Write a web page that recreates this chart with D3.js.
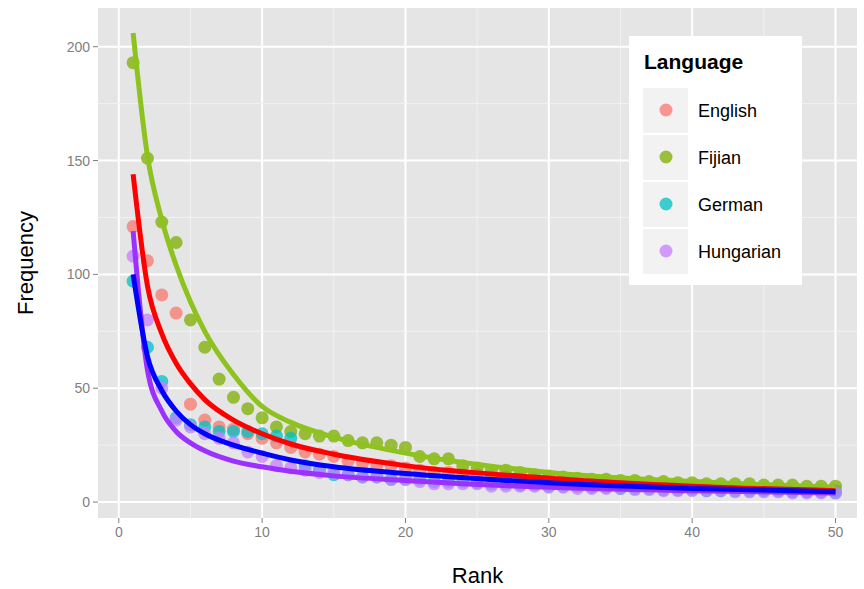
<!DOCTYPE html>
<html><head><meta charset="utf-8">
<script src="https://d3js.org/d3.v7.min.js"></script>
<style>body{margin:0;background:#fff}text{font-family:"Liberation Sans",Arial,sans-serif}</style>
</head><body>
<script>
var ranks = d3.range(1, 51);
var languages = ["English", "Fijian", "German", "Hungarian"];
var pointColors = ["#F8766D", "#7CAE00", "#00BFC4", "#C77CFF"];
var lineColors = ["#FF0000", "#8DC21F", "#0000FF", "#9B30FF"];

var english = [121,106,91,83,43,36,33,32,30,28,26,24,22,21,20,18,17,16,16,15,14,13,13,12,12,11,11,10,10,9.5,9,9,8.5,8,8,7.5,7.5,7,7,6.5,6.5,6,6,6,5.5,5.5,5,5,5,5];
var fijian = [193,151,123,114,80,68,54,46,41,37,33,31,30,29,29,27,26,26,25,24,20,19,19,16,15,14,14,13,12,11.5,11,10.5,10,10,9.5,9.5,9,9,8.5,8.5,8,8,8,8,7.5,7.5,7.5,7,7,7];
var german = [97,68,53,37,34,33,31,31,31,30,29,28,16,14,12,12,11,11,10,10,10,9,9,9,8.5,8,8,7.5,7.5,7,7,7,6.5,6.5,6,6,6,5.5,5.5,5.5,5,5,5,5,5,5,4.5,4.5,4.5,4];
var hungarian = [108,80,50,36,33,30,28,26,22,20,16,15,14,13,13,12,11,11,10,10,9,8,8,8,8,7,7,7,7,6.5,6.5,6,6,6,6,5.5,5.5,5,5,5,5,5,4.5,4.5,4.5,4.5,4,4,4,4];
var pointSeries = [english, fijian, german, hungarian];

// fitted curves at selected ranks
var fitRanks = [1, 2, 3, 4, 5, 6, 8, 10, 12, 15, 20, 30, 40, 50];
var fitEnglish = [144, 95, 74, 61, 52, 45, 36, 30, 25.5, 21, 16, 10.5, 7, 5];
var fitFijian = [206, 152, 124, 104, 88, 75, 56, 42, 35, 28.5, 21.5, 13, 9, 6.5];
var fitGerman = [100, 64, 49, 40, 34, 30, 25, 21.5, 18.5, 15.5, 12.5, 8.5, 6, 4.5];
var fitHungarian = [119, 58, 40, 31, 26, 22.5, 18, 15.5, 13.5, 11.5, 9.5, 6.5, 5, 4];
var fitSeries = [fitEnglish, fitFijian, fitGerman, fitHungarian];

var xTicks = [0, 10, 20, 30, 40, 50];
var yTicks = [0, 50, 100, 150, 200];

var W = 864, H = 589;
var L = 98, R = 857, T = 8, B = 518;
var svg = d3.select("body").append("svg").attr("width", W).attr("height", H);
var x = d3.scaleLinear().domain([-1.45, 51.5]).range([L, R]);
var y = d3.scaleLinear().domain([-7, 217]).range([B, T]);

svg.append("rect").attr("x", L).attr("y", T).attr("width", R - L).attr("height", B - T).attr("fill", "#E5E5E5");
var g = svg.append("g");
d3.range(-5, 55, 5).forEach(function(v) {
  if (v < -1.45 || v > 51.5) return;
  var major = v % 10 === 0;
  g.append("line").attr("x1", x(v)).attr("x2", x(v)).attr("y1", T).attr("y2", B)
    .attr("stroke", major ? "#fff" : "#F2F2F2").attr("stroke-width", major ? 2 : 1);
});
d3.range(-25, 225, 25).forEach(function(v) {
  if (v < -7 || v > 217) return;
  var major = v % 50 === 0;
  g.append("line").attr("y1", y(v)).attr("y2", y(v)).attr("x1", L).attr("x2", R)
    .attr("stroke", major ? "#fff" : "#F2F2F2").attr("stroke-width", major ? 2 : 1);
});

pointSeries.forEach(function(s, i) {
  svg.append("g").selectAll("circle").data(s).join("circle")
    .attr("cx", function(d, j) { return x(ranks[j]); }).attr("cy", function(d) { return y(d); })
    .attr("r", 6.5).attr("fill", pointColors[i]).attr("opacity", 0.75);
});

var line = d3.line().x(function(d) { return x(d[0]); }).y(function(d) { return y(d[1]); }).curve(d3.curveMonotoneX);
[1, 0, 3, 2].forEach(function(i) {
  svg.append("path").attr("d", line(fitRanks.map(function(r, j) { return [r, fitSeries[i][j]]; })))
    .attr("fill", "none").attr("stroke", lineColors[i]).attr("stroke-width", 5);
});

xTicks.forEach(function(v) {
  svg.append("line").attr("x1", x(v)).attr("x2", x(v)).attr("y1", B).attr("y2", B + 5).attr("stroke", "#7F7F7F");
  svg.append("text").attr("x", x(v)).attr("y", B + 19).attr("text-anchor", "middle").attr("font-size", 14).attr("fill", "#7F7F7F").text(v);
});
yTicks.forEach(function(v) {
  svg.append("line").attr("x1", L - 5).attr("x2", L).attr("y1", y(v)).attr("y2", y(v)).attr("stroke", "#7F7F7F");
  svg.append("text").attr("x", L - 8).attr("y", y(v) + 5).attr("text-anchor", "end").attr("font-size", 14).attr("fill", "#7F7F7F").text(v);
});
svg.append("text").attr("x", (L + R) / 2).attr("y", 583).attr("text-anchor", "middle").attr("font-size", 22).text("Rank");
svg.append("text").attr("transform", "translate(33," + (T + B) / 2 + ") rotate(-90)").attr("text-anchor", "middle").attr("font-size", 22).text("Frequency");

var lg = svg.append("g").attr("transform", "translate(629,36)");
lg.append("rect").attr("width", 173).attr("height", 249).attr("fill", "#fff");
lg.append("text").attr("x", 15).attr("y", 33).attr("font-size", 21).attr("font-weight", "bold").text("Language");
languages.forEach(function(n, i) {
  var yy = 52 + i * 47;
  lg.append("rect").attr("x", 14).attr("y", yy).attr("width", 45).attr("height", 45).attr("fill", "#F2F2F2");
  lg.append("circle").attr("cx", 37).attr("cy", yy + 22).attr("r", 6.5).attr("fill", pointColors[i]).attr("opacity", 0.75);
  lg.append("text").attr("x", 69).attr("y", yy + 29).attr("font-size", 18).text(n);
});
</script>
</body></html>
